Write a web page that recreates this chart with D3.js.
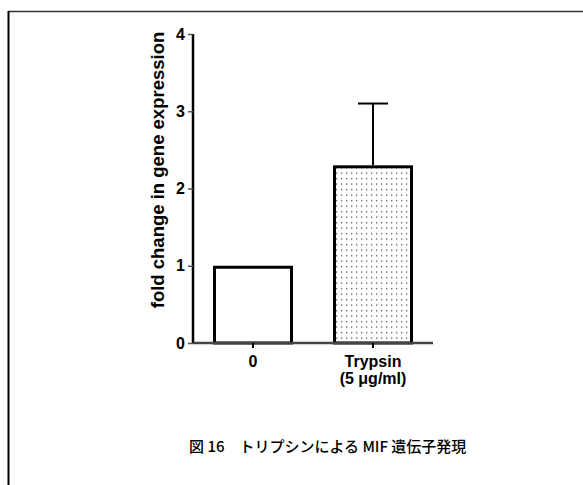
<!DOCTYPE html>
<html>
<head>
<meta charset="utf-8">
<script src="https://cdn.jsdelivr.net/npm/d3@7"></script>
<style>
  html, body { margin: 0; padding: 0; background: #fff; }
  svg { display: block; }
</style>
</head>
<body>
<script>
// Fold change in MIF gene expression after trypsin treatment
const categories = ["0", "Trypsin"];
const subLabels = ["", "(5 \u03bcg/ml)"];
const values = [1.0, 2.30];
const errors = [0, 0.80];
const yTicks = [0, 1, 2, 3, 4];
const yLabel = "fold change in gene expression";
const caption = "図 16\u3000トリプシンによる MIF 遺伝子発現";

const W = 583, H = 485;
const FONT = "Liberation Sans, Arial, sans-serif";
const svg = d3.select("body").append("svg").attr("width", W).attr("height", H);

// frame lines (top and left)
svg.append("line").attr("x1", 8).attr("x2", W).attr("y1", 11.5).attr("y2", 11.5)
  .attr("stroke", "#333").attr("stroke-width", 1.5);
svg.append("line").attr("x1", 8.5).attr("x2", 8.5).attr("y1", 11).attr("y2", H)
  .attr("stroke", "#000").attr("stroke-width", 2);

const x = d3.scaleBand().domain(categories).range([193, 433])
  .paddingInner(1 / 3).paddingOuter(1 / 6);
const y = d3.scaleLinear().domain([0, 4]).range([343, 34]);

// dotted fill pattern
const defs = svg.append("defs");
const pat = defs.append("pattern").attr("id", "dots").attr("patternUnits", "userSpaceOnUse")
  .attr("width", 5).attr("height", 5.5);
pat.append("rect").attr("width", 5).attr("height", 5.5).attr("fill", "#fff");
pat.append("rect").attr("x", 1).attr("y", 2).attr("width", 1.3).attr("height", 1.3).attr("fill", "#555");

// error bars
const g = svg.append("g");
categories.forEach((c, i) => {
  if (errors[i] > 0) {
    const cx = x(c) + x.bandwidth() / 2;
    g.append("line").attr("x1", cx).attr("x2", cx)
      .attr("y1", y(values[i])).attr("y2", y(values[i] + errors[i]))
      .attr("stroke", "#000").attr("stroke-width", 2);
    g.append("line").attr("x1", cx - 15).attr("x2", cx + 15)
      .attr("y1", y(values[i] + errors[i])).attr("y2", y(values[i] + errors[i]))
      .attr("stroke", "#000").attr("stroke-width", 2);
  }
});

// bars
g.selectAll("rect.bar").data(categories).join("rect").attr("class", "bar")
  .attr("x", d => x(d) + 1.5)
  .attr("width", x.bandwidth() - 3)
  .attr("y", (d, i) => y(values[i]) + 1.5)
  .attr("height", (d, i) => y(0) - y(values[i]) - 1.5)
  .attr("fill", (d, i) => i === 0 ? "#fff" : "url(#dots)")
  .attr("stroke", "#000").attr("stroke-width", 3);

// y axis
const yAxis = svg.append("g").attr("transform", "translate(193,0)")
  .call(d3.axisLeft(y).tickValues(yTicks).tickFormat(d3.format("d")).tickSize(5).tickPadding(3));
yAxis.select(".domain").attr("stroke", "#000").attr("stroke-width", 2.5)
  .attr("d", `M0,${y(4)}H0V${y(0)}`);
yAxis.selectAll(".tick line").attr("stroke", "#555").attr("stroke-width", 1.5);
yAxis.selectAll(".tick text").attr("font-family", FONT)
  .attr("font-weight", "bold").attr("font-size", 16).attr("fill", "#000");

// x axis
const xAxis = svg.append("g").attr("transform", `translate(0,${y(0)})`)
  .call(d3.axisBottom(x).tickSize(5).tickPadding(8));
xAxis.select(".domain").attr("stroke", "#444").attr("stroke-width", 2.5)
  .attr("d", "M193,0H433");
xAxis.selectAll(".tick line").attr("stroke", "#000").attr("stroke-width", 2);
xAxis.selectAll(".tick text").attr("font-family", FONT)
  .attr("font-weight", "bold").attr("font-size", 16).attr("fill", "#000");
xAxis.selectAll(".tick").each(function (d, i) {
  if (subLabels[i]) {
    d3.select(this).append("text").attr("y", 30).attr("dy", "0.71em")
      .attr("text-anchor", "middle").attr("fill", "#000")
      .attr("font-family", FONT)
      .attr("font-weight", "bold").attr("font-size", 16).text(subLabels[i]);
  }
});

// y axis title
svg.append("text").attr("transform", "translate(164,170) rotate(-90)")
  .attr("text-anchor", "middle").attr("font-family", FONT)
  .attr("font-weight", "bold").attr("font-size", 18.5).attr("fill", "#000").text(yLabel);

// caption
svg.append("text").attr("x", 189).attr("y", 452)
  .attr("font-family", "Noto Sans CJK JP, sans-serif").attr("font-size", 15)
  .attr("font-weight", 500).attr("fill", "#000").text(caption);
</script>
</body>
</html>
